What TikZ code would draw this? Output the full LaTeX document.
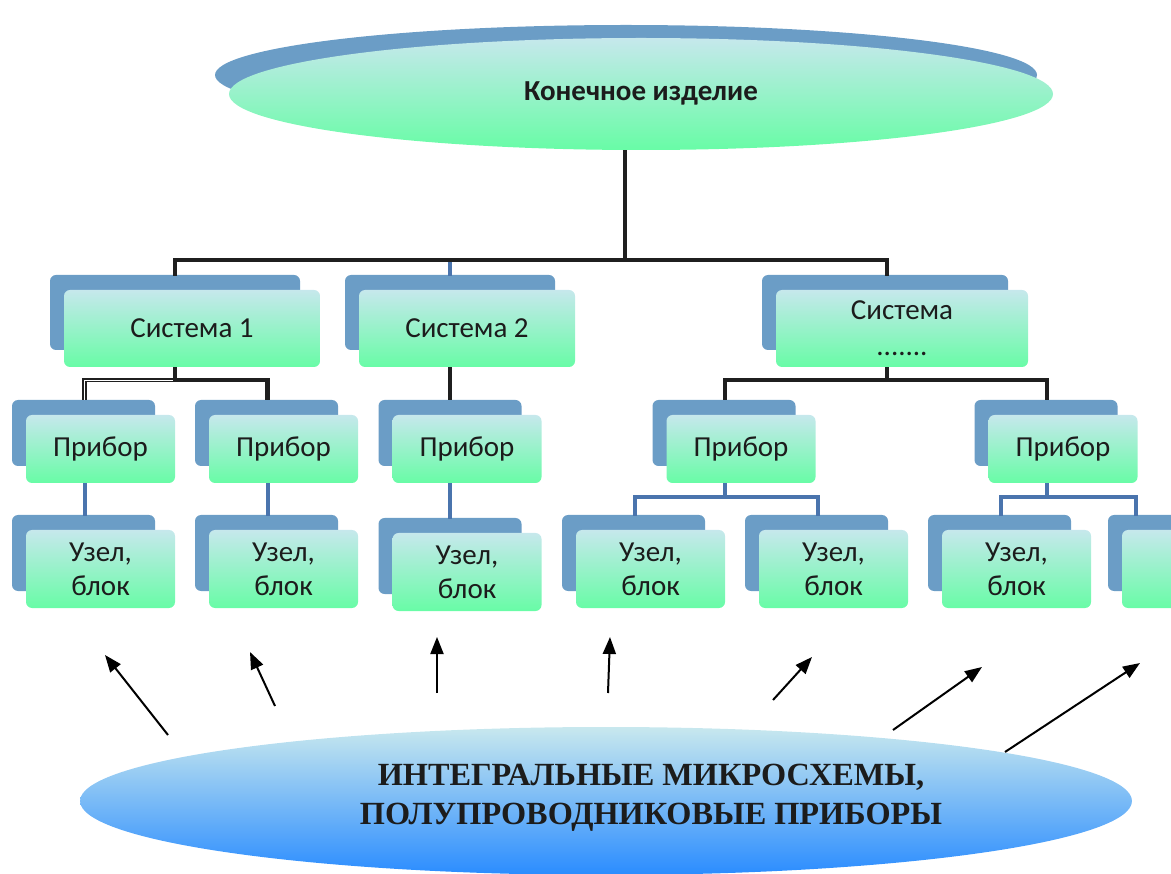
\documentclass[tikz,border=0pt]{standalone}
\usepackage{fontspec}
\setmainfont{Carlito}
\newfontfamily\tnr{Liberation Serif}
\usetikzlibrary{shapes.geometric,arrows.meta,calc}
\definecolor{shadowc}{HTML}{6B9DC6}
\definecolor{ctop}{HTML}{C6E8EC}
\definecolor{cbot}{HTML}{68FCA6}
\definecolor{btop}{HTML}{C8E8EE}
\definecolor{bbot}{HTML}{2A8CFF}
\definecolor{bluec}{HTML}{4A74AD}
\definecolor{txt}{HTML}{1C1C1C}
\newcommand\mybox[6]{%
  \fill[shad] (#2-#4/2-14, #3-#5/2-15) rectangle (#2+#4/2-20, #3+#5/2-17);
  \node[front, minimum width=#4pt, minimum height=#5pt] (#1) at (#2,#3) {#6};
}
\begin{document}
\begin{tikzpicture}[x=1pt,y=-1pt,
  front/.style={rectangle, rounded corners=6pt, top color=ctop, bottom color=cbot,
    align=center, inner sep=0pt, font=\fontsize{29}{34}\selectfont, text=txt},
  shad/.style={fill=shadowc, rounded corners=6pt},
  blk/.style={line width=4.5pt, black!88},
  dbl/.style={line width=1.6pt, black!88, double=white, double distance=1.3pt},
  blu/.style={line width=4pt, bluec},
  arr/.style={line width=2pt, black, -{Triangle[length=17pt,width=13pt]}},
]
\useasboundingbox (0,0) rectangle (1171,874);
\clip (0,0) rectangle (1171,874);

% top ellipse
\fill[shadowc] (626,75) ellipse [x radius=411, y radius=50];
\node[ellipse, top color=ctop, bottom color=cbot, minimum width=824pt, minimum height=112pt,
  inner sep=0pt, text=txt, font=\bfseries\fontsize{29}{32}\selectfont] (top) at (641,94)
  {\raisebox{6pt}{Конечное изделие}};

% level 1
\mybox{S1}{192}{328.5}{256}{77}{Система 1}
\mybox{S2}{467}{328.5}{216}{77}{Система 2}
\mybox{S3}{902}{328.5}{252}{77}{Система\\[2pt].......}

% level 2
\mybox{P1}{100.5}{449}{149}{68}{Прибор}
\mybox{P2}{283.5}{449}{149}{68}{Прибор}
\mybox{P3}{467}{449}{149}{68}{Прибор}
\mybox{P4}{741}{449}{149}{68}{Прибор}
\mybox{P5}{1063}{449}{149}{68}{Прибор}

% level 3
\mybox{U1}{100.5}{569}{149}{78}{Узел,\\блок}
\mybox{U2}{283.5}{569}{149}{78}{Узел,\\блок}
\mybox{U3}{467}{572}{149}{78}{Узел,\\блок}
\mybox{U4}{650.5}{569}{149}{78}{Узел,\\блок}
\mybox{U5}{833.5}{569}{149}{78}{Узел,\\блок}
\mybox{U6}{1016.5}{569}{149}{78}{Узел,\\блок}
\mybox{U7}{1196.5}{569}{149}{78}{}

% connectors top -> systems
\coordinate (h0) at (625,260);
\draw[blu] ([shift={(-17,-14)}]S2.north) -- ++(0,-15);
\draw[blk] (h0 |- top.south) -- (h0);
\draw[blk] ([shift={(-17,-14)}]S1.north) -- ++(0,-16) -| ([shift={(-15,-14)}]S3.north);

% systems -> devices
\draw[dbl] ([xshift=-17pt]S1.south) ++(0,13) -| ([shift={(-16,-15)}]P1.north);
\draw[blk] ([xshift=-17pt]S1.south) -- ++(0,13) -| ([shift={(-16,-15)}]P2.north);
\draw[blk] ([xshift=-17pt]S2.south) -- ([shift={(-17,-15)}]P3.north);
\draw[blk] ([xshift=-15pt]S3.south) -- ++(0,13);
\draw[blk] ([shift={(-16,-15)}]P4.north) -- ++(0,-20) -| ([shift={(-16,-15)}]P5.north);

% devices -> units
\draw[blu] ([xshift=-16pt]P1.south) -- ([shift={(-16,-14)}]U1.north);
\draw[blu] ([xshift=-16pt]P2.south) -- ([shift={(-16,-14)}]U2.north);
\draw[blu] ([xshift=-17pt]P3.south) -- ([shift={(-17,-14)}]U3.north);
\draw[blu] ([xshift=-16pt]P4.south) -- ++(0,14);
\draw[blu] ([shift={(-16,-14)}]U4.north) -- ++(0,-19) -| ([shift={(-16,-14)}]U5.north);
\draw[blu] ([xshift=-16pt]P5.south) -- ++(0,14);
\draw[blu] ([shift={(-16,-14)}]U6.north) -- ++(0,-19) -| ([shift={(14,-14)}]U7.north west);

% bottom ellipse
\node[ellipse, top color=btop, bottom color=bbot, minimum width=1052pt, minimum height=148pt,
  inner sep=0pt] (base) at (606,801) {};
\node[font=\tnr\bfseries\fontsize{32.3}{39}\selectfont, align=center, text=txt] (basetxt) at (651,798)
  {ИНТЕГРАЛЬНЫЕ МИКРОСХЕМЫ,\\ПОЛУПРОВОДНИКОВЫЕ ПРИБОРЫ};

% arrows
\coordinate (a1s) at (168,735); \coordinate (a1e) at (105,655);
\coordinate (a2s) at (275,706); \coordinate (a2e) at (250,652);
\coordinate (a3s) at (437,693); \coordinate (a3e) at (437,637);
\coordinate (a4s) at (608,693); \coordinate (a4e) at (610,637);
\coordinate (a5s) at (773,700); \coordinate (a5e) at (812,657);
\coordinate (a6s) at (893,730); \coordinate (a6e) at (982,667);
\coordinate (a7s) at (1005,752); \coordinate (a7e) at (1140,663);
\draw[arr] (a1s) -- (a1e);
\draw[arr] (a2s) -- (a2e);
\draw[arr] (a3s) -- (a3e);
\draw[arr] (a4s) -- (a4e);
\draw[arr] (a5s) -- (a5e);
\draw[arr] (a6s) -- (a6e);
\draw[arr] (a7s) -- (a7e);
\end{tikzpicture}
\end{document}
